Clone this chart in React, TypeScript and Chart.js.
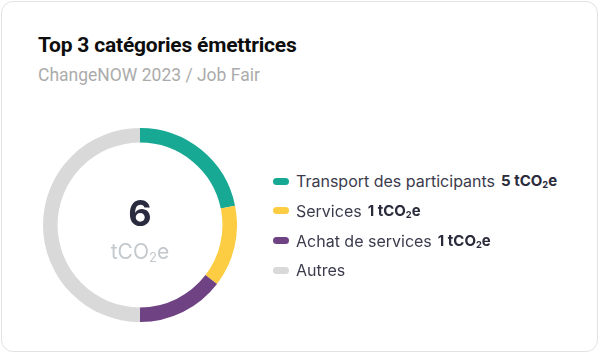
import React, { useEffect, useRef } from "react";
import { Chart, registerables } from "chart.js";

Chart.register(...registerables);

const TITLE = "Top 3 catégories émettrices";
const SUBTITLE = "ChangeNOW 2023 / Job Fair";
const TOTAL_LABEL = "6";
const categories = ["Transport des participants", "Services", "Achat de services", "Autres"];
const shares = [21.8, 13.6, 14.6, 50];
const valueLabels = ["5", "1", "1", ""];
const colors = ["#17a993", "#fccd42", "#6f4283", "#d9d9d9"];

const Unit = () => (
  <span>
    tCO
    <sub style={{ fontSize: "0.62em", verticalAlign: "-0.25em", lineHeight: 0 }}>2</sub>
    e
  </span>
);

export default function App() {
  const ref = useRef<HTMLCanvasElement | null>(null);

  useEffect(() => {
    if (!ref.current) return;
    const chart = new Chart(ref.current, {
      type: "doughnut",
      data: {
        labels: categories,
        datasets: [
          {
            data: shares,
            backgroundColor: colors,
            borderWidth: 0,
            hoverBorderWidth: 0,
            hoverOffset: 0,
            offset: 0,
          },
        ],
      },
      options: {
        responsive: false,
        animation: false,
        cutout: "85%",
        layout: { padding: 0 },
        plugins: {
          legend: { display: false },
          tooltip: { enabled: false },
        },
      },
    });
    return () => chart.destroy();
  }, []);

  return (
    <div
      style={{
        position: "absolute",
        left: 0,
        top: 0,
        width: 600,
        height: 354,
        background: "#ffffff",
        overflow: "hidden",
      }}
    >
      <div
        style={{
          position: "absolute",
          left: 1,
          top: 1,
          width: 595,
          height: 349,
          border: "1px solid #e2e2e2",
          borderRadius: 12,
          background: "#ffffff",
        }}
      />
      <div
        style={{
          position: "absolute",
          left: 38,
          top: 35,
          fontFamily: "Roboto",
          fontWeight: 700,
          fontSize: 21,
          lineHeight: "21px",
          letterSpacing: "-0.2px",
          color: "#0d0d0d",
          whiteSpace: "nowrap",
        }}
      >
        {TITLE}
      </div>
      <div
        style={{
          position: "absolute",
          left: 38,
          top: 67,
          fontFamily: "Roboto",
          fontWeight: 400,
          fontSize: 17.5,
          lineHeight: "17.5px",
          color: "#ababab",
          whiteSpace: "nowrap",
        }}
      >
        {SUBTITLE}
      </div>

      <div style={{ position: "absolute", left: 43, top: 128, width: 194, height: 194 }}>
        <canvas ref={ref} width={194} height={194} style={{ display: "block" }} />
      </div>

      <div
        style={{
          position: "absolute",
          left: 40,
          width: 200,
          top: 195,
          textAlign: "center",
          fontFamily: "Inter",
          fontWeight: 700,
          fontSize: 36,
          lineHeight: "36px",
          color: "#2a2b3f",
        }}
      >
        {TOTAL_LABEL}
      </div>
      <div
        style={{
          position: "absolute",
          left: 40,
          width: 200,
          top: 241,
          textAlign: "center",
          fontFamily: "Inter",
          fontWeight: 400,
          fontSize: 21,
          lineHeight: "21px",
          color: "#c3c8cd",
        }}
      >
        <Unit />
      </div>

      {categories.map((c, i) => (
        <div
          key={c}
          style={{
            position: "absolute",
            left: 273,
            top: 166 + i * 29.8,
            height: 30,
            display: "flex",
            alignItems: "center",
            whiteSpace: "nowrap",
            fontFamily: "Inter",
            lineHeight: "30px",
          }}
        >
          <span
            style={{
              display: "inline-block",
              width: 16,
              height: 7,
              borderRadius: 4,
              background: colors[i],
              marginRight: 7,
            }}
          />
          <span style={{ color: "#3b3b4d", fontSize: 16 }}>{c}</span>
          {valueLabels[i] ? (
            <span style={{ color: "#2a2b3b", fontWeight: 700, fontSize: 15, marginLeft: 6 }}>
              {valueLabels[i]} <Unit />
            </span>
          ) : null}
        </div>
      ))}
    </div>
  );
}
